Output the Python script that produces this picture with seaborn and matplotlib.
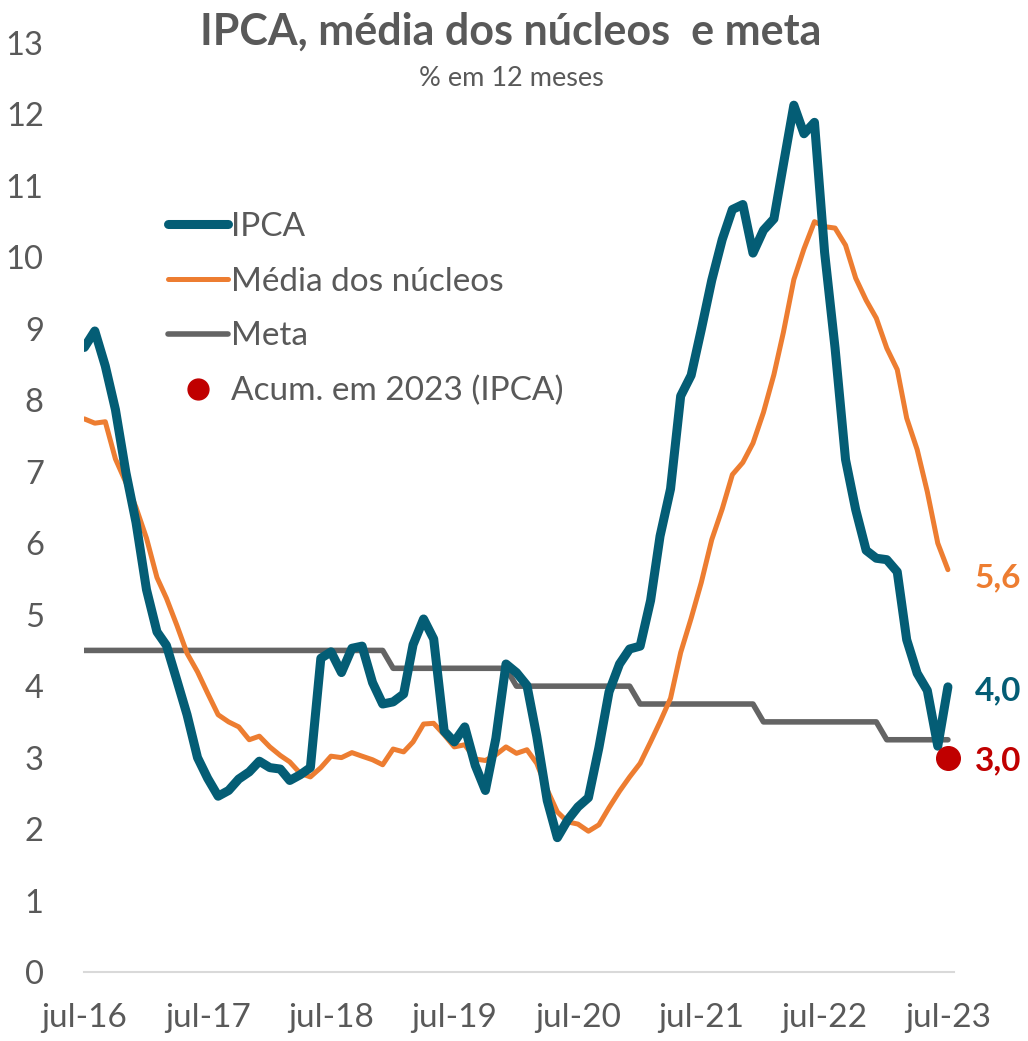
import numpy as np
import pandas as pd
import matplotlib
matplotlib.use("Agg")
import matplotlib.pyplot as plt
import matplotlib.dates as mdates
from matplotlib.lines import Line2D
import seaborn as sns

# ---------------- data ----------------
start_month = "2016-07-01"
end_month = "2023-07-01"

ipca = [8.74, 8.97, 8.48, 7.87, 6.99, 6.29,
        5.35, 4.76, 4.57, 4.08, 3.60, 3.00, 2.71, 2.46, 2.54, 2.70, 2.80, 2.95,
        2.86, 2.84, 2.68, 2.76, 2.86, 4.39, 4.48, 4.19, 4.53, 4.56, 4.05, 3.75,
        3.78, 3.89, 4.58, 4.94, 4.66, 3.37, 3.22, 3.43, 2.89, 2.54, 3.27, 4.31,
        4.19, 4.01, 3.30, 2.40, 1.88, 2.13, 2.31, 2.44, 3.14, 3.92, 4.31, 4.52,
        4.56, 5.20, 6.10, 6.76, 8.06, 8.35, 8.99, 9.68, 10.25, 10.67, 10.74, 10.06,
        10.38, 10.54, 11.30, 12.13, 11.73, 11.89, 10.07, 8.73, 7.17, 6.47, 5.90, 5.79,
        5.77, 5.60, 4.65, 4.18, 3.94, 3.16, 3.99]

media_nucleos = [7.74, 7.68, 7.70, 7.18, 6.85, 6.50,
                 6.07, 5.52, 5.23, 4.85, 4.46, 4.20, 3.90, 3.60, 3.50, 3.43, 3.25, 3.30,
                 3.15, 3.03, 2.94, 2.78, 2.73, 2.86, 3.02, 3.00, 3.07, 3.02, 2.97, 2.90,
                 3.12, 3.08, 3.22, 3.47, 3.48, 3.32, 3.15, 3.18, 2.98, 2.96, 3.04, 3.15,
                 3.06, 3.11, 2.92, 2.55, 2.24, 2.10, 2.07, 1.97, 2.06, 2.30, 2.53, 2.73,
                 2.92, 3.22, 3.50, 3.83, 4.47, 4.95, 5.45, 6.05, 6.48, 6.96, 7.13, 7.40,
                 7.83, 8.36, 8.95, 9.69, 10.12, 10.50, 10.43, 10.41, 10.17, 9.71, 9.40, 9.15,
                 8.73, 8.43, 7.75, 7.31, 6.72, 6.00, 5.63]

meta_anual = {2016: 4.5, 2017: 4.5, 2018: 4.5, 2019: 4.25, 2020: 4.0,
              2021: 3.75, 2022: 3.5, 2023: 3.25}

acum_2023 = 3.0

tick_labels = ["jul-16", "jul-17", "jul-18", "jul-19", "jul-20", "jul-21", "jul-22", "jul-23"]
y_ticks = list(range(0, 14))

series_names = ["IPCA", "Média dos núcleos", "Meta", "Acum. em 2023 (IPCA)"]
title = "IPCA, média dos núcleos  e meta"
subtitle = "% em 12 meses"

# ---------------- frame ----------------
dates = pd.date_range(start_month, end_month, freq="MS")
df = pd.DataFrame({"data": dates, "IPCA": ipca, "Média dos núcleos": media_nucleos})
df["Meta"] = [meta_anual[d.year] for d in dates]

C_IPCA = "#045D75"
C_NUC = "#ED7D31"
C_META = "#646464"
C_RED = "#C00000"
C_TXT = "#595959"

sns.set_theme(style="white")
plt.rcParams["font.family"] = ["Lato", "DejaVu Sans"]
plt.rcParams["lines.solid_joinstyle"] = "round"
plt.rcParams["lines.solid_capstyle"] = "round"

fig = plt.figure(figsize=(10.28, 10.41), dpi=100)
ax = fig.add_axes([84 / 1028, 1 - 972 / 1041, (954 - 84) / 1028, (972 - 43) / 1041])

sns.lineplot(data=df, x="data", y="Meta", ax=ax, color=C_META, linewidth=4.0, legend=False)
sns.lineplot(data=df, x="data", y="Média dos núcleos", ax=ax, color=C_NUC, linewidth=3.6, legend=False)
sns.lineplot(data=df, x="data", y="IPCA", ax=ax, color=C_IPCA, linewidth=6.5, legend=False)

last = dates[-1]
ax.plot([last], [acum_2023], marker="o", markersize=17, color=C_RED, linestyle="none",
        zorder=5, clip_on=False)

# end labels
lab_kw = dict(textcoords="offset pixels", fontsize=24, fontweight="bold", va="center", ha="left")
ax.annotate(f"{media_nucleos[-1]:.1f}".replace(".", ","), (last, media_nucleos[-1]), xytext=(27, -8),
            color=C_NUC, annotation_clip=False, **lab_kw)
ax.annotate(f"{ipca[-1]:.1f}".replace(".", ","), (last, ipca[-1]), xytext=(27, -4),
            color=C_IPCA, annotation_clip=False, **lab_kw)
ax.annotate(f"{acum_2023:.1f}".replace(".", ","), (last, acum_2023), xytext=(27, -3),
            color=C_RED, annotation_clip=False, **lab_kw)

# axes
ax.set_ylim(0, 13)
ax.set_xlim(dates[0] - pd.Timedelta(days=1), last + pd.Timedelta(days=18))
ax.set_yticks(y_ticks)
ax.set_yticklabels([str(v) for v in y_ticks])
tick_dates = [d for d in dates if d.month == 7]
ax.set_xticks(tick_dates)
ax.set_xticklabels(tick_labels)
ax.set_xlabel("")
ax.set_ylabel("")
ax.tick_params(axis="y", length=0, pad=29, labelsize=23.5, labelcolor=C_TXT)
ax.tick_params(axis="x", length=0, pad=22, labelsize=24, labelcolor=C_TXT)
for s in ["top", "right", "left"]:
    ax.spines[s].set_visible(False)
ax.spines["bottom"].set_color("#D9D9D9")
ax.spines["bottom"].set_linewidth(1.5)
ax.grid(False)

# legend
handles = [
    Line2D([0], [0], color=C_IPCA, linewidth=6.5, solid_capstyle="round"),
    Line2D([0], [0], color=C_NUC, linewidth=3.6, solid_capstyle="round"),
    Line2D([0], [0], color=C_META, linewidth=4.0, solid_capstyle="round"),
    Line2D([0], [0], color=C_RED, marker="o", markersize=15, linestyle="none"),
]
leg = fig.legend(handles, series_names, loc="upper left",
                 bbox_to_anchor=(168 / 1028, 1 - 212 / 1041), frameon=False,
                 fontsize=24, handlelength=1.8, handletextpad=0.1, labelspacing=0.74,
                 borderpad=0, borderaxespad=0)
for t in leg.get_texts():
    t.set_color(C_TXT)

fig.text(0.497, 1 - 32 / 1041, title, ha="center", va="center", fontsize=31,
         fontweight="bold", color=C_TXT)
fig.text(0.497, 1 - 78 / 1041, subtitle, ha="center", va="center", fontsize=19.5, color=C_TXT)

fig.savefig("out.png", dpi=100)
